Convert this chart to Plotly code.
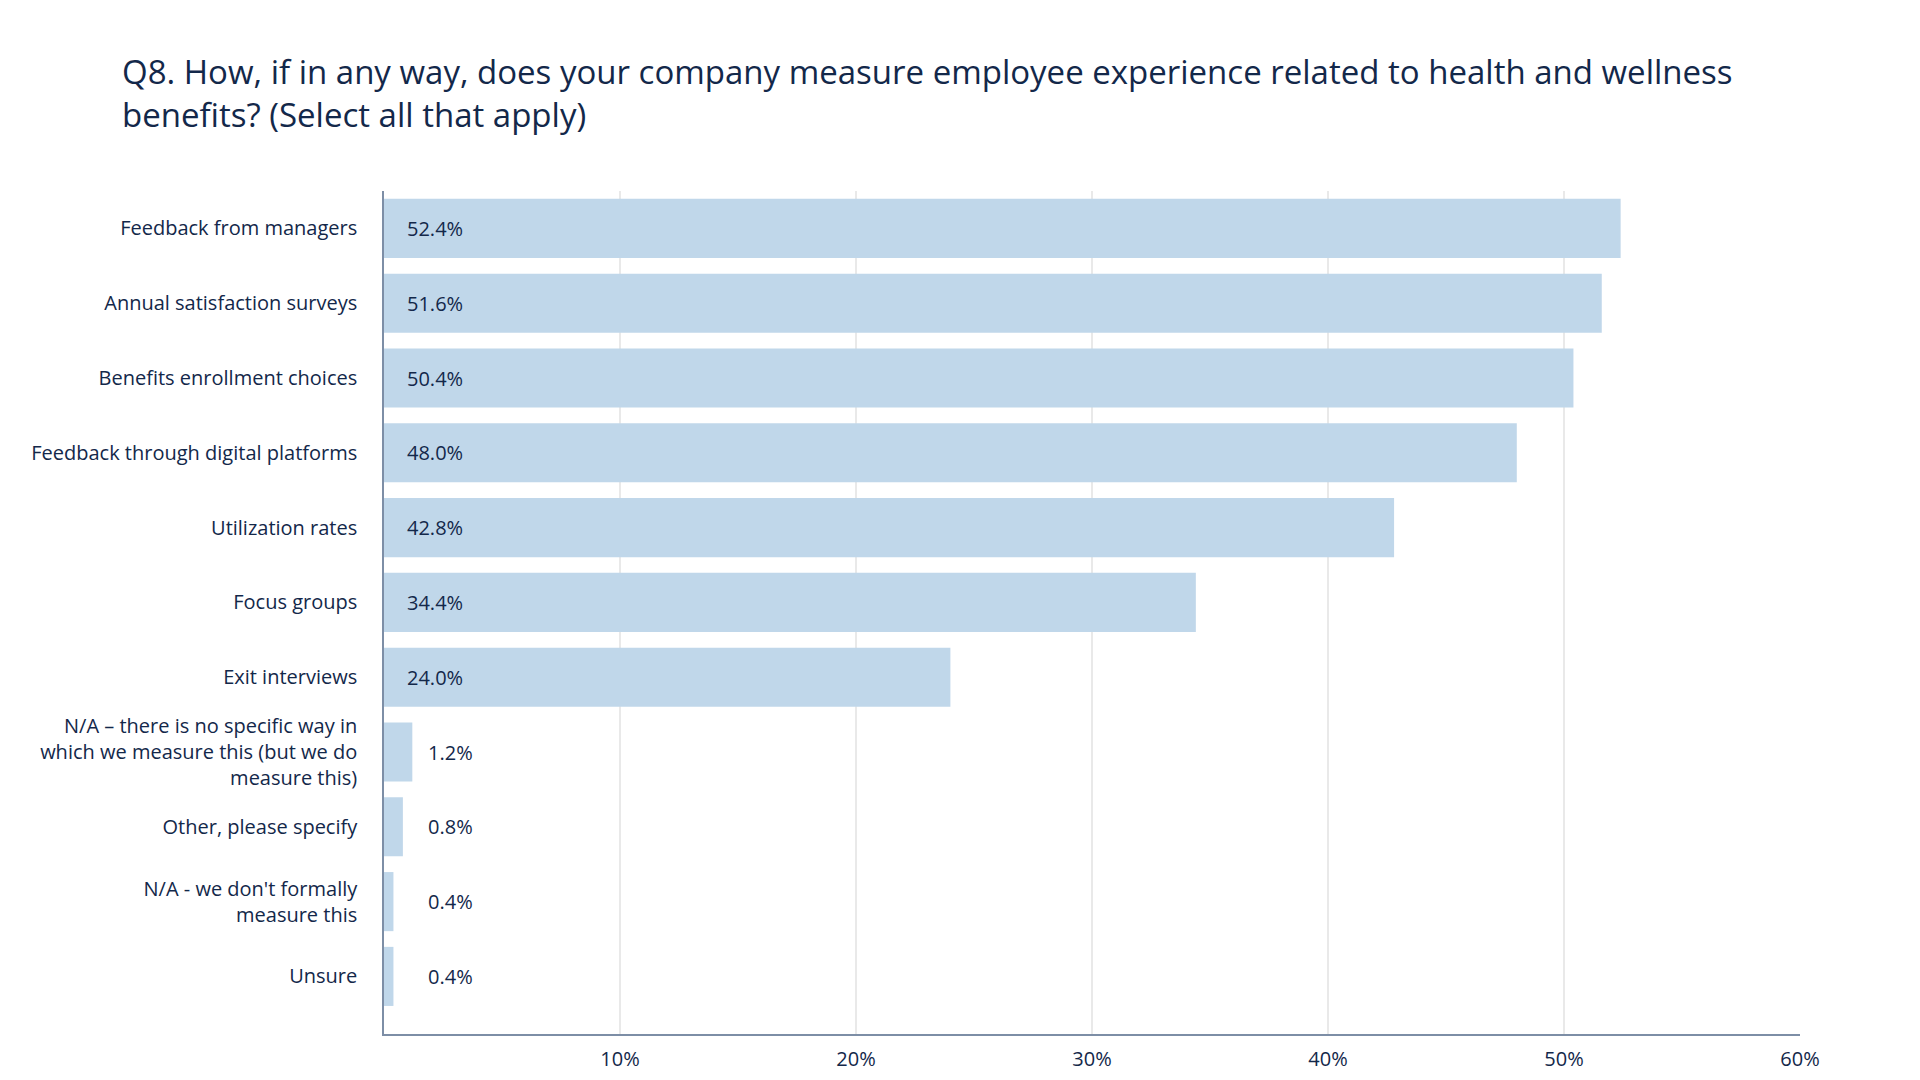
import plotly.graph_objects as go

categories = [
    "Feedback from managers",
    "Annual satisfaction surveys",
    "Benefits enrollment choices",
    "Feedback through digital platforms",
    "Utilization rates",
    "Focus groups",
    "Exit interviews",
    "N/A – there is no specific way in<br>which we measure this (but we do<br>measure this)",
    "Other, please specify",
    "N/A - we don't formally<br>measure this",
    "Unsure",
]
values = [52.4, 51.6, 50.4, 48.0, 42.8, 34.4, 24.0, 1.2, 0.8, 0.4, 0.4]
tick_vals = [10, 20, 30, 40, 50, 60]
tick_text = ["10%", "20%", "30%", "40%", "50%", "60%"]

FONT = "Open Sans"
TXT = "#13284a"
BAR = "#c0d7ea"

fig = go.Figure()
fig.add_trace(go.Bar(
    x=values, y=categories, orientation="h",
    marker=dict(color=BAR, line=dict(width=0)),
    hoverinfo="skip",
))

for c, v in zip(categories, values):
    inside = v >= 5
    fig.add_annotation(
        x=0, y=c, xref="x", yref="y",
        text=f"{v:.1f}%", showarrow=False,
        xanchor="left", yanchor="middle",
        xshift=21 if inside else 42,
        font=dict(family=FONT, size=20, color=TXT),
    )

fig.update_layout(
    width=1920, height=1080,
    paper_bgcolor="white", plot_bgcolor="white",
    margin=dict(l=376, r=128, t=183, b=54),
    showlegend=False,
    bargap=0.21,
    title=dict(
        text="Q8. How, if in any way, does your company measure employee experience related to health and wellness<br>benefits? (Select all that apply)",
        x=114 / 1920, xanchor="left", xref="container",
        y=1 - 76 / 1080, yanchor="top", yref="container",
        font=dict(family=FONT, size=33, color=TXT),
    ),
    xaxis=dict(
        range=[0, 60], tickvals=tick_vals, ticktext=tick_text,
        showgrid=True, gridcolor="#e9e9e9", gridwidth=1.5,
        zeroline=False, showline=True, linecolor="#7d8ea6", linewidth=1.5,
        ticks="", tickfont=dict(family=FONT, size=20, color=TXT),
        ticklabelstandoff=6, fixedrange=True,
    ),
    yaxis=dict(
        range=[10.77, -0.5], type="category",
        showgrid=False, zeroline=False,
        showline=True, linecolor="#7d8ea6", linewidth=1.5,
        ticks="", ticklabelstandoff=21,
        tickfont=dict(family=FONT, size=20, color=TXT),
        fixedrange=True,
    ),
)

fig.write_html("out.html")
